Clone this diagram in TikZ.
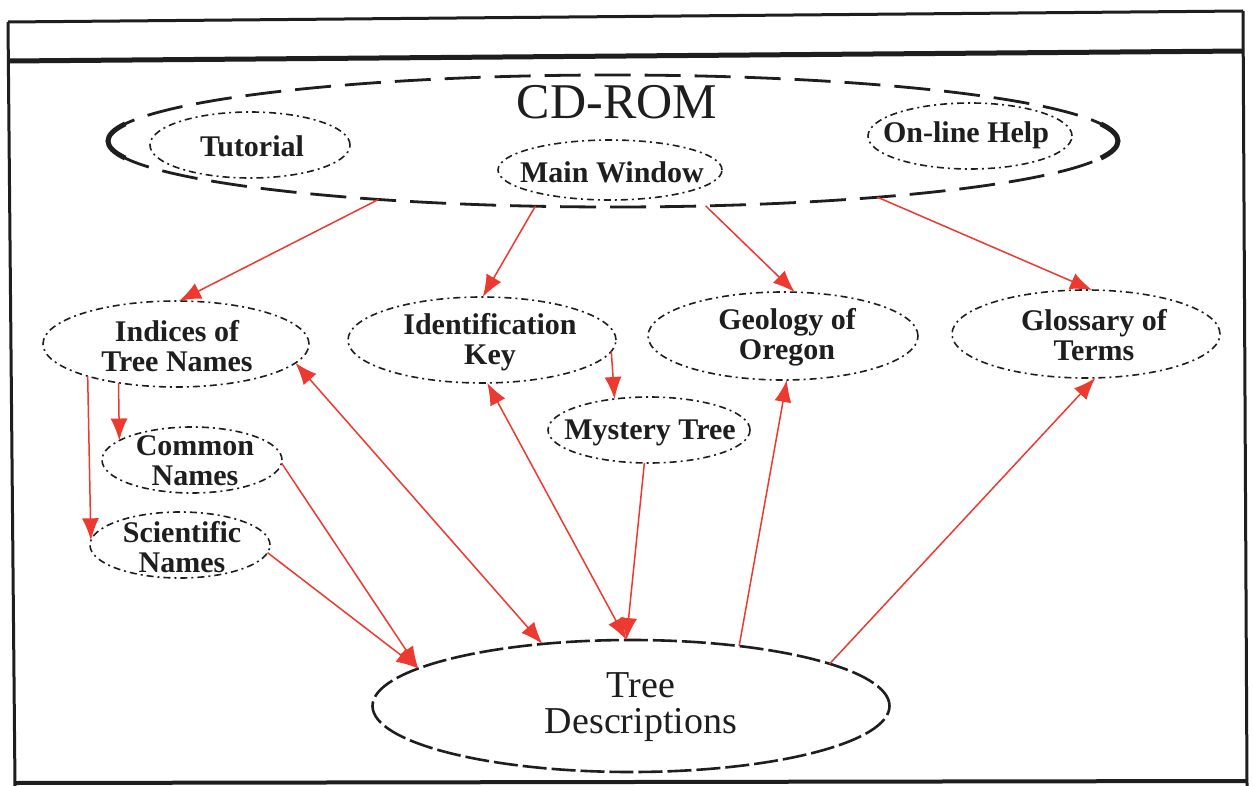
\documentclass[tikz,border=0pt]{standalone}
\usepackage{fontspec}
\setmainfont{Liberation Serif}[BoldFont={Liberation Serif Bold}]
\usetikzlibrary{arrows.meta,shapes.geometric}
\definecolor{arrred}{RGB}{236,58,48}
\definecolor{ink}{RGB}{30,30,30}
\begin{document}
\begin{tikzpicture}[x=1pt,y=-1pt,
  ell/.style={ellipse,draw=ink,inner sep=0pt,outer sep=0pt},
  small/.style={ell,line width=1.6pt,dash pattern=on 7pt off 4pt on 2pt off 4pt},
  lbl/.style={align=center,inner sep=0pt,text=ink,font=\fontsize{30}{30}\selectfont\bfseries},
  conn/.style={draw=arrred,line width=1.5pt,-{Latex[length=22pt,width=17pt]}},
  both/.style={draw=arrred,line width=1.5pt,{Latex[length=22pt,width=17pt]}-{Latex[length=22pt,width=17pt]}},
  frame/.style={draw=ink,line width=3pt}
]
\useasboundingbox (0,0) rectangle (1253,786);
\fill[white] (0,0) rectangle (1253,786);

% window frame
\draw[frame] (8,22) -- (1243,11);
\draw[draw=ink,line width=5pt] (9,61) -- (1244,51);
\draw[frame] (8,22) -- (15,786);
\draw[frame] (1243,11) -- (1247,786);
\draw[draw=ink,line width=4pt] (15,783) -- (1247,781);

% CD-ROM container
\node[ell,line width=2.8pt,dash pattern=on 36pt off 14pt,minimum width=1010,minimum height=132] (cd) at (613,141) {};
\draw[draw=ink,line width=5pt] (cd.center) ++(165:505 and 66) arc[start angle=165,end angle=195,x radius=505,y radius=66];
\draw[draw=ink,line width=5pt] (cd.center) ++(-15:505 and 66) arc[start angle=-15,end angle=15,x radius=505,y radius=66];
\node[inner sep=0pt,text=ink,font=\fontsize{50}{50}\selectfont] (cdt) at (617,102) {CD-ROM};

\node[small,minimum width=200,minimum height=66] (tut) at (250,145) {};
\node[lbl] (tutt) at (252,146) {Tutorial};
\node[small,minimum width=224,minimum height=60] (main) at (610,170) {};
\node[lbl] (maint) at (612,172) {Main Window};
\node[small,minimum width=204,minimum height=66] (help) at (970,136) {};
\node[lbl] (helpt) at (966,135) {On-line Help};

% second row
\node[small,minimum width=266,minimum height=86] (idx) at (176,344) {};
\node[lbl] (idxt) at (177,346) {Indices of\\Tree Names};
\node[small,minimum width=268,minimum height=86] (idk) at (482,340) {};
\node[lbl] (idkt) at (490,342) {Identification\\Key};
\node[small,minimum width=270,minimum height=88] (geo) at (783,336) {};
\node[lbl] (geot) at (787,337) {Geology of\\Oregon};
\node[small,minimum width=268,minimum height=88] (glo) at (1086,334) {};
\node[lbl] (glot) at (1094,335) {Glossary of\\Terms};

\node[small,minimum width=180,minimum height=66] (com) at (192,460) {};
\node[lbl] (comt) at (195,461) {Common\\Names};
\node[small,minimum width=180,minimum height=66] (sci) at (180,545) {};
\node[lbl] (scit) at (182,547) {Scientific\\Names};
\node[small,minimum width=202,minimum height=66] (mys) at (649,430) {};
\node[lbl] (myst) at (650,433) {Mystery Tree};

% Tree descriptions
\node[ell,line width=2.6pt,dash pattern=on 24pt off 5pt,minimum width=517,minimum height=132] (td) at (631,706) {};
\node[align=center,inner sep=0pt,text=ink,font=\fontsize{38}{36}\selectfont] (tdt) at (641,707) {Tree\\Descriptions};

% connectors
\draw[conn] (cd.194.6) -- (idx.86);
\draw[conn] (cd.220) -- (idk.89);
\draw[conn] (cd.325) -- (geo.75);
\draw[conn] (cd.348) -- (glo.82);
\draw[conn] (idx.200) -- (sci.177);
\draw[conn] (idx.214) -- (com.165);
\draw[conn] (idk.355) -- (mys.138);
\draw[both] (idx.351.6) -- (td.145);
\draw[both] (idk.277) -- (td.94);
\draw[conn] (mys.262) -- (td.94);
\draw[conn] (td.29) -- (geo.275);
\draw[conn] (td.12) -- (glo.282);
\draw[conn] (com.358) -- (td.170);
\draw[conn] (sci.355) -- (td.170);
\end{tikzpicture}
\end{document}
